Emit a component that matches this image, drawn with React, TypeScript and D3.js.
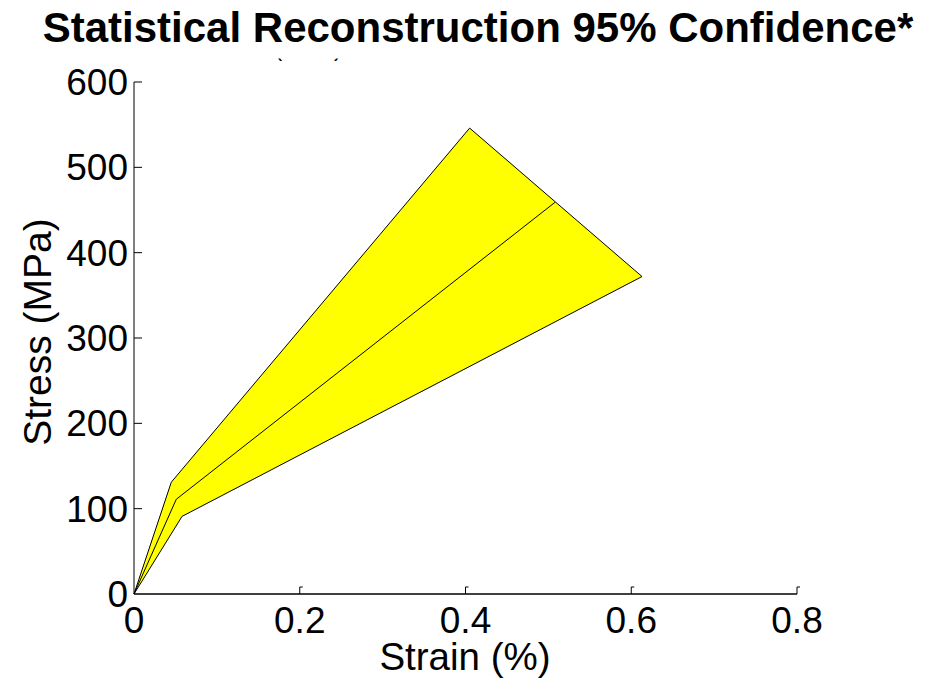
import React from "react";
import * as d3 from "d3";

// Confidence band bounds and the mean curve (strain in %, stress in MPa)
const upperStrain = [0, 0.045, 0.405];
const upperStress = [0, 131, 546];
const meanStrain = [0, 0.051, 0.508];
const meanStress = [0, 111, 459];
const lowerStrain = [0, 0.058, 0.613];
const lowerStress = [0, 91, 372];

const xTicks = [0, 0.2, 0.4, 0.6, 0.8];
const yTicks = [0, 100, 200, 300, 400, 500, 600];

const titleText = "Statistical Reconstruction 95% Confidence*";
const subtitleText = "(n = 5)";
const xLabel = "Strain (%)";
const yLabel = "Stress (MPa)";

const W = 929;
const H = 680;
const FONT = "'Liberation Sans', Arial, Helvetica, sans-serif";

export default function App() {
  const x = d3.scaleLinear().domain([0, 0.8]).range([134, 797]);
  const y = d3.scaleLinear().domain([0, 600]).range([594, 82]);

  const upper: [number, number][] = upperStrain.map((s, i) => [s, upperStress[i]]);
  const lower: [number, number][] = lowerStrain.map((s, i) => [s, lowerStress[i]]);
  const mean: [number, number][] = meanStrain.map((s, i) => [s, meanStress[i]]);

  const line = d3
    .line<[number, number]>()
    .x((d) => x(d[0]))
    .y((d) => y(d[1]));

  const band = line([...upper, ...lower.slice().reverse()]) + "Z";

  const x0 = x(0);
  const y0 = y(0);

  return (
    <svg
      width={W}
      height={H}
      viewBox={`0 0 ${W} ${H}`}
      style={{ position: "absolute", left: 0, top: 0, background: "#fff" }}
      fontFamily={FONT}
    >
      <defs>
        <clipPath id="subclip">
          <rect x={0} y={58.5} width={W} height={8} />
        </clipPath>
      </defs>

      {/* title, with the second line hidden under the plot area */}
      <text x={478} y={42} textAnchor="middle" fontSize={42} fontWeight="bold" fill="#000">
        {titleText}
      </text>
      <text
        x={308}
        y={56}
        textAnchor="middle"
        fontSize={23}
        fill="#000"
        clipPath="url(#subclip)"
      >
        {subtitleText}
      </text>

      {/* confidence band */}
      <path d={band} fill="#ffff00" stroke="#000" strokeWidth={1} />
      <path d={line(mean) ?? ""} fill="none" stroke="#000" strokeWidth={1} />

      {/* axes */}
      <line x1={x0} x2={x(0.8)} y1={y0} y2={y0} stroke="#000" strokeWidth={1.5} />
      <line x1={x0} x2={x0} y1={y0} y2={y(600)} stroke="#000" strokeWidth={1} />

      {xTicks.map((t) => (
        <g key={"xt" + t}>
          {t > 0 && (
            <path
              d={`M${x(t)},${y0} V${y0 - 7} h3`}
              fill="none"
              stroke="#000"
              strokeWidth={1}
            />
          )}
          <text x={x(t)} y={633} textAnchor="middle" fontSize={37} fill="#000">
            {d3.format("")(t)}
          </text>
        </g>
      ))}

      {yTicks.map((t) => (
        <g key={"yt" + t}>
          {t > 0 && (
            <line x1={x0} x2={x0 + 8} y1={y(t)} y2={y(t)} stroke="#000" strokeWidth={1} />
          )}
          <text x={128} y={y(t) + 13} textAnchor="end" fontSize={37} fill="#000">
            {t}
          </text>
        </g>
      ))}

      {/* axis labels */}
      <text x={465} y={670} textAnchor="middle" fontSize={38.5} fill="#000">
        {xLabel}
      </text>
      <text
        transform="translate(51,332) rotate(-90)"
        textAnchor="middle"
        fontSize={39}
        fill="#000"
      >
        {yLabel}
      </text>
    </svg>
  );
}
